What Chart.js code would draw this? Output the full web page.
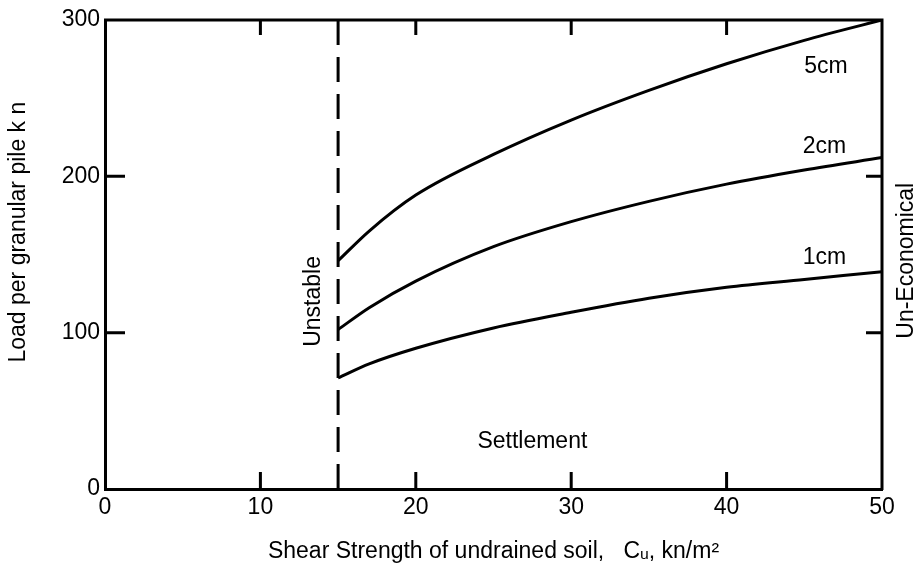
<!DOCTYPE html>
<html>
<head>
<meta charset="utf-8">
<script src="https://cdn.jsdelivr.net/npm/chart.js@4.4.1/dist/chart.umd.min.js"></script>
<style>
html,body{margin:0;padding:0;background:#fff;}
</style>
</head>
<body>
<canvas id="soilChart" width="922" height="565"></canvas>
<script>
// values
const shear = [15, 17, 20, 25, 30, 35, 40, 45, 50];
const load5cm = [146, 165, 188, 214, 236, 255, 272, 287, 300];
const load2cm = [102, 116, 133, 155, 171, 184, 195, 204, 212];
const load1cm = [71, 80, 90, 103, 113, 122, 129, 134, 139];
const xTicks = [0, 10, 20, 30, 40, 50];
const yTicks = [0, 100, 200, 300];
const unstableLimit = 15;

const fontFam = '"Liberation Sans", Arial, Helvetica, sans-serif';
const black = '#000';

function pts(xs, ys) {
  return xs.map((v, i) => ({x: v, y: ys[i]}));
}

function curve(label, ys) {
  return {
    label: label,
    data: pts(shear, ys),
    borderColor: black,
    borderWidth: 3,
    pointRadius: 0,
    fill: false,
    cubicInterpolationMode: 'monotone'
  };
}

// text put on the plot, placed in data units
const notes = [
  {text: '5cm', x: 46.4, y: 270},
  {text: '2cm', x: 46.3, y: 219},
  {text: '1cm', x: 46.3, y: 148},
  {text: 'Settlement', x: 27.5, y: 30},
  {text: 'Unstable', x: 13.4, y: 120, rot: true},
  {text: 'Un-Economical', x: 51.6, y: 146, rot: true}
];

const frameAndNotes = {
  id: 'frameAndNotes',
  afterDatasetsDraw(chart) {
    const {ctx, chartArea: a, scales: {x, y}} = chart;
    ctx.save();
    ctx.strokeStyle = black;
    ctx.lineWidth = 3;
    ctx.beginPath();
    ctx.moveTo(a.left - 1, a.top);
    ctx.lineTo(a.right, a.top);
    ctx.lineTo(a.right, a.bottom + 1);
    xTicks.slice(1, -1).forEach(v => {
      const px = x.getPixelForValue(v);
      ctx.moveTo(px, a.bottom);
      ctx.lineTo(px, a.bottom - 17);
      ctx.moveTo(px, a.top);
      ctx.lineTo(px, a.top + 15);
    });
    yTicks.slice(1, -1).forEach(v => {
      const py = y.getPixelForValue(v);
      ctx.moveTo(a.left, py);
      ctx.lineTo(a.left + 20, py);
      ctx.moveTo(a.right, py);
      ctx.lineTo(a.right - 16, py);
    });
    ctx.stroke();

    ctx.fillStyle = black;
    ctx.font = '23px ' + fontFam;
    ctx.textAlign = 'center';
    ctx.textBaseline = 'middle';
    notes.forEach(n => {
      const px = x.getPixelForValue(n.x);
      const py = y.getPixelForValue(n.y);
      ctx.save();
      ctx.translate(px, py);
      if (n.rot) ctx.rotate(-Math.PI / 2);
      ctx.fillText(n.text, 0, 0);
      ctx.restore();
    });
    ctx.restore();
  }
};

new Chart(document.getElementById('soilChart'), {
  type: 'line',
  data: {
    datasets: [
      curve('5cm', load5cm),
      curve('2cm', load2cm),
      curve('1cm', load1cm),
      {
        label: 'limit',
        data: [{x: unstableLimit, y: yTicks[0]}, {x: unstableLimit, y: yTicks[yTicks.length - 1]}],
        borderColor: black,
        borderWidth: 3,
        borderDash: [25, 12],
        pointRadius: 0,
        fill: false
      }
    ]
  },
  options: {
    responsive: false,
    animation: false,
    layout: {padding: {left: 0, right: 40, top: 20, bottom: 0}},
    plugins: {legend: {display: false}, tooltip: {enabled: false}},
    scales: {
      x: {
        type: 'linear',
        min: xTicks[0],
        max: xTicks[xTicks.length - 1],
        afterFit: s => { s.height = 76; },
        ticks: {stepSize: 10, color: black, padding: 5, font: {size: 23, family: fontFam}},
        grid: {display: false, drawTicks: false},
        border: {display: true, color: black, width: 3},
        title: {
          display: true,
          text: 'Shear Strength of undrained soil,   C\u1D64, kn/m\u00B2',
          color: black,
          font: {size: 23, family: fontFam},
          padding: {top: 0, bottom: 0}
        }
      },
      y: {
        type: 'linear',
        min: yTicks[0],
        max: yTicks[yTicks.length - 1],
        afterFit: s => { s.width = 105; },
        ticks: {stepSize: 100, color: black, padding: 5, font: {size: 23, family: fontFam}},
        grid: {display: false, drawTicks: false},
        border: {display: true, color: black, width: 3},
        title: {
          display: true,
          // leading spaces push the rotated title up, as in the figure
          text: '       Load per granular pile k n',
          color: black,
          font: {size: 23, family: fontFam},
          padding: {top: 5, bottom: 0}
        }
      }
    }
  },
  plugins: [frameAndNotes]
});
</script>
</body>
</html>
